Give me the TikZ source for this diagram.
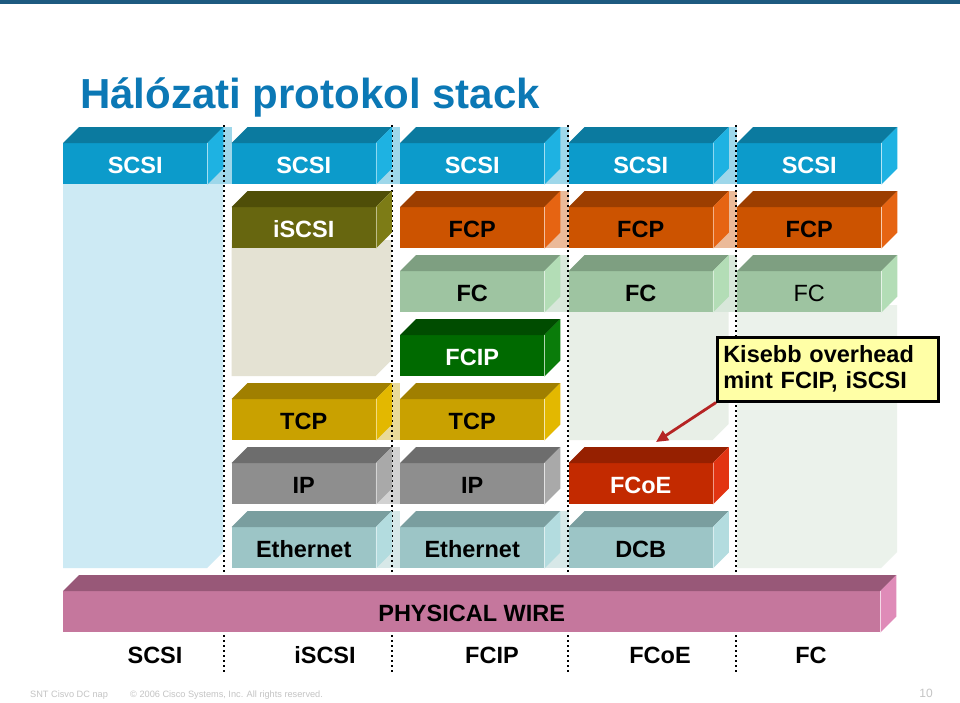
\documentclass[tikz,border=0pt]{standalone}
\usepackage{fontspec}
\setmainfont{Liberation Sans}
\usetikzlibrary{arrows.meta,positioning,backgrounds}
\definecolor{ciscoblue}{HTML}{0B78B5}
\definecolor{topbar}{HTML}{1D5A80}
\definecolor{footgrey}{HTML}{C4C4C4}
\definecolor{notefill}{HTML}{FFFFA6}
\definecolor{arrowred}{HTML}{B52424}
% front / top / side of each layer
\definecolor{scsi}{HTML}{0C9BCB}  \definecolor{topscsi}{HTML}{0B7A9F}  \definecolor{sidescsi}{HTML}{1EB2E2}
\definecolor{iscsi}{HTML}{67660F} \definecolor{topiscsi}{HTML}{4F4E08} \definecolor{sideiscsi}{HTML}{7D7C16}
\definecolor{fcp}{HTML}{CC5300}   \definecolor{topfcp}{HTML}{9C3E00}   \definecolor{sidefcp}{HTML}{E66412}
\definecolor{fc}{HTML}{9EC4A1}    \definecolor{topfc}{HTML}{7E9F81}    \definecolor{sidefc}{HTML}{B3DDB6}
\definecolor{fcip}{HTML}{006A00}  \definecolor{topfcip}{HTML}{004C00}  \definecolor{sidefcip}{HTML}{0A7C0A}
\definecolor{tcp}{HTML}{C9A100}   \definecolor{toptcp}{HTML}{A07F00}   \definecolor{sidetcp}{HTML}{E3B800}
\definecolor{ip}{HTML}{8E8E8E}    \definecolor{topip}{HTML}{6D6D6D}    \definecolor{sideip}{HTML}{A9A9A9}
\definecolor{fcoe}{HTML}{C32A00}  \definecolor{topfcoe}{HTML}{962000}  \definecolor{sidefcoe}{HTML}{E23412}
\definecolor{eth}{HTML}{9CC5C6}   \definecolor{topeth}{HTML}{7A9E9F}   \definecolor{sideeth}{HTML}{B3DCDF}
\definecolor{wire}{HTML}{C5779D}  \definecolor{topwire}{HTML}{985878}  \definecolor{sidewire}{HTML}{DF8BB8}
\definecolor{pscsi}{HTML}{CDEAF4}
\definecolor{piscsi}{HTML}{E4E2D3}
\definecolor{pfcA}{HTML}{E8EFE7}
\definecolor{pfcB}{HTML}{EBF2EB}

\begin{document}
\begin{tikzpicture}[x=1pt,y=-1pt,
every node/.style={font=\fontsize{23.5}{26}\selectfont\bfseries},
slab/.style={anchor=north west,minimum width=144pt,minimum height=41pt,inner sep=0pt,
text height=20pt,text depth=0pt},
light/.style={slab,text=white},
sep/.style={line width=2.4pt,dash pattern=on 2.4pt off 2.6pt},
note/.style={anchor=north west,draw=black,line width=2.5pt,fill=notefill,
text width=209pt,align=left,inner xsep=6pt,minimum height=64pt},
arr/.style={-{Triangle[length=12pt,width=11pt]},line width=2.8pt,draw=arrowred},
foot/.style={font=\fontsize{9.2}{11}\selectfont,text=footgrey,anchor=west,inner sep=0pt}
]
\useasboundingbox (0,0) rectangle (960,702);
\fill[topbar] (0,0) rectangle (960,3.5);

\node[anchor=base west,inner sep=0pt,text=ciscoblue,
font=\fontsize{42}{50}\selectfont\bfseries] (title) at (80,108) {Hálózati protokol stack};

% stacks
\node[light,fill=scsi] (scsi1) at (63,143)    {SCSI};
\node[light,fill=scsi] (scsi2) at (231.5,143) {SCSI};
\node[light,fill=scsi] (scsi3) at (400,143)   {SCSI};
\node[light,fill=scsi] (scsi4) at (568.5,143) {SCSI};
\node[light,fill=scsi] (scsi5) at (737,143)   {SCSI};

\node[light,fill=iscsi] (iscsi2) at (231.5,207) {iSCSI};
\node[slab,fill=fcp] (fcp3) at (400,207)   {FCP};
\node[slab,fill=fcp] (fcp4) at (568.5,207) {FCP};
\node[slab,fill=fcp] (fcp5) at (737,207)   {FCP};

\node[slab,fill=fc] (fc3) at (400,271)   {FC};
\node[slab,fill=fc] (fc4) at (568.5,271) {FC};
\node[slab,fill=fc,font=\fontsize{23.5}{26}\selectfont] (fc5) at (737,271) {FC};

\node[light,fill=fcip] (fcip3) at (400,335) {FCIP};

\node[slab,fill=tcp] (tcp2) at (231.5,399) {TCP};
\node[slab,fill=tcp] (tcp3) at (400,399)   {TCP};

\node[slab,fill=ip] (ip2) at (231.5,463) {IP};
\node[slab,fill=ip] (ip3) at (400,463)   {IP};
\node[light,fill=fcoe] (fcoe4) at (568.5,463) {FCoE};

\node[slab,fill=eth] (eth2) at (231.5,527) {Ethernet};
\node[slab,fill=eth] (eth3) at (400,527)   {Ethernet};
\node[slab,fill=eth] (dcb4) at (568.5,527) {DCB};

% column separators
\draw[sep] (224,125) -- (224,672);
\draw[sep] (392,125) -- (392,672);
\draw[sep] (568,125) -- (568,672);
\draw[sep] (736,125) -- (736,672);

\node[slab,fill=wire,minimum width=817pt] (wire) at (63,591) {PHYSICAL WIRE};

% top and side faces
\foreach \n/\c in {scsi1/scsi,scsi2/scsi,scsi3/scsi,scsi4/scsi,scsi5/scsi,
  iscsi2/iscsi,fcp3/fcp,fcp4/fcp,fcp5/fcp,fc3/fc,fc4/fc,fc5/fc,fcip3/fcip,
  tcp2/tcp,tcp3/tcp,ip2/ip,ip3/ip,fcoe4/fcoe,eth2/eth,eth3/eth,dcb4/eth,wire/wire}{
  \fill[top\c] (\n.north west) -- ++(16,-16) -- ([shift={(16,-16)}]\n.north east)
    -- (\n.north east) -- cycle;
  \fill[side\c] (\n.north east) -- ++(16,-16) -- ([shift={(16,-16)}]\n.south east)
    -- (\n.south east) -- cycle;
  \draw[white,opacity=.5,line width=.8pt] (\n.north east) -- (\n.south east);
}

% protocol names
\node (lbscsi)  at (155,655) {SCSI};
\node (lbiscsi) at (325,655) {iSCSI};
\node (lbfcip)  at (492,655) {FCIP};
\node (lbfcoe)  at (660,655) {FCoE};
\node (lbfc)    at (811,655) {FC};

% callout
\node[note] (note) at (716,336) {Kisebb overhead\\mint FCIP, iSCSI};
\coordinate (fcoetip) at (656,442);
\draw[arr] (note.south west) -- (fcoetip);

% footer
\node[foot] (event) at (30,695) {SNT Cisvo DC nap};
\node[foot] (copy) at (130,695) {© 2006 Cisco Systems, Inc. All rights reserved.};
\node[foot,anchor=east,font=\fontsize{12}{14}\selectfont] (page) at (933,693) {10};

\begin{scope}[on background layer]
\fill[white] (0,0) rectangle (960,702);
% pale columns behind the stacks
\fill[pscsi]  (63,160) -- (63,568) -- (207,568) -- (223,552) -- (223,160) -- cycle;
\fill[piscsi] (231.5,240) -- (231.5,376) -- (375.5,376) -- (391.5,360) -- (391.5,240) -- cycle;
\fill[pfcA]   (568.5,305) -- (568.5,440) -- (712.5,440) -- (728.5,424) -- (728.5,305) -- cycle;
\fill[pfcB]   (737,305) -- (737,568) -- (881,568) -- (897,552) -- (897,305) -- cycle;
% links between neighbouring slabs
\foreach \a/\b/\c in {scsi1/scsi2/scsi,scsi2/scsi3/scsi,scsi3/scsi4/scsi,scsi4/scsi5/scsi,
  fcp3/fcp4/fcp,fcp4/fcp5/fcp,fc3/fc4/fc,fc4/fc5/fc,tcp2/tcp3/tcp,ip2/ip3/ip,
  eth2/eth3/eth,eth3/dcb4/eth}
  \fill[\c!40] ([yshift=16pt]\a.north east) rectangle (\b.south west);
\end{scope}
\end{tikzpicture}
\end{document}
